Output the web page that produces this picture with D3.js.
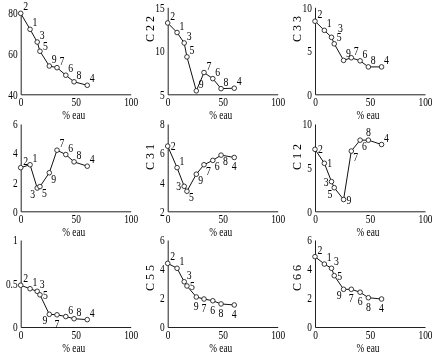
<!DOCTYPE html>
<html>
<head>
  <title>% eau panels</title>
  <style>
    body { margin: 0; background: #fff; }
    svg { display: block; will-change: transform; }
  </style>
</head>
<body>
<div id="chart"></div>
<script src="https://d3js.org/d3.v7.min.js"></script>
<script>
// samples 1..9, water content of each sample
var samples = [1, 2, 3, 4, 5, 6, 7, 8, 9];
var eau = [8.5, 0, 15, 60.5, 17.5, 41, 33, 48.5, 26];

// one array of values per panel (sample order 1..9)
var c11 = [71.7, 79.5, 65.5, 44.4, 61, 49.3, 53, 46.1, 53.8];
var c22 = [12.1, 13.2, 10.9, 5.7, 9.3, 6.8, 7.5, 5.65, 5.4];
var c33 = [7.35, 8.4, 6.55, 3.15, 5.8, 3.85, 4.2, 3.15, 3.9];
var c23 = [3.2, 3.0, 1.6, 3.1, 1.7, 3.9, 4.2, 3.4, 2.65];
var c31 = [5.0, 6.48, 3.72, 5.7, 3.38, 5.5, 5.2, 5.86, 4.55];
var c12 = [5.5, 7.1, 3.4, 7.65, 2.7, 8.15, 6.9, 8.15, 1.35];
var c44 = [0.44, 0.48, 0.41, 0.085, 0.37, 0.12, 0.14, 0.095, 0.146];
var c55 = [4.05, 4.39, 3.12, 1.52, 2.83, 1.81, 1.93, 1.59, 2.07];
var c66 = [4.34, 4.85, 4.05, 1.93, 3.54, 2.4, 2.6, 2.02, 2.6];

var panelValues = [c11, c22, c33, c23, c31, c12, c44, c55, c66];
var panelNames = ["C 1 1", "C 2 2", "C 3 3", "C 2 3", "C 3 1", "C 1 2", "C 4 4", "C 5 5", "C 6 6"];
var yTicks = [[40, 60, 80], [5, 10, 15], [0, 5, 10],
              [0, 2, 4, 6], [2, 4, 6, 8], [0, 5, 10],
              [0, 0.5, 1], [0, 2, 4, 6], [0, 2, 4, 6]];
var xTicks = [0, 50, 100];
var xLabel = "% eau";

// where each point label sits (sample order 1..9)
var labelPos = [
  ["ne","ne","ne","ne","ene","ne","ne","ne","ne"],
  ["ne","ne","ne","ne","ne","ne","ne","ne","ne"],
  ["ne","ne","nne","ne","ne","ne","ne","ne","ne"],
  ["ne","ne","sw","ne","se","ne","ne","ne","se"],
  ["ne","e","w","s","se","se","se","se","se"],
  ["e","e","w","ne","sw","se","se","n","e"],
  ["ne","ne","ne","ne","e","ne","s","ne","sw"],
  ["ne","ne","ne","s","e","s","s","s","s"],
  ["ne","ne","ne","s","e","s","s","s","sw"]
];
var offsets = {
  ne: [2.5, -3, "start"], nne: [6.5, -5, "start"], ene: [3, -1, "start"],
  e: [3, 4, "start"], se: [2, 10, "start"], s: [0, 13, "middle"],
  sw: [-2, 10, "end"], w: [-3, 4, "end"], n: [0, -4, "middle"]
};

// layout
var W = 440, H = 355;
var colX = [20.7, 167.7, 315];
var rowTop = [7.3, 124, 240];
var rowBottom = [94.3, 211.3, 327];
var plotW = 110;
var squeeze = 0.78;
var font = "'Liberation Serif', 'DejaVu Serif', serif";
var ylabX = [-1, 153.5, 301];
var ylabY = [29, 157, 278];

var svg = d3.select("#chart").append("svg")
  .attr("width", W).attr("height", H)
  .style("font-family", font);

panelValues.forEach(function (vals, p) {
  var col = p % 3, row = Math.floor(p / 3);
  var top = (p === 0) ? 12.3 : rowTop[row];
  var yt = yTicks[p];

  var x = d3.scaleLinear().domain([0, 100]).range([colX[col], colX[col] + plotW]);
  var y = d3.scaleLinear().domain([yt[0], yt[yt.length - 1]]).range([rowBottom[row], top]);

  var g = svg.append("g");

  // axes
  var ax = g.append("g")
    .attr("transform", "translate(0," + rowBottom[row] + ")")
    .call(d3.axisBottom(x).tickValues(xTicks).tickSize(0).tickSizeOuter(0).tickPadding(3));
  var ay = g.append("g")
    .attr("transform", "translate(" + colX[col] + ",0)")
    .call(d3.axisLeft(y).tickValues(yt).tickSize(0).tickSizeOuter(0).tickPadding(4)
      .tickFormat(d3.format("~g")));
  [ax, ay].forEach(function (a) {
    a.select(".domain").attr("stroke", "#222").attr("stroke-width", 1);
    a.selectAll("text")
      .attr("font-family", font)
      .attr("font-size", "12px")
      .attr("fill", "#000")
      .attr("transform", "scale(" + squeeze + ",1)");
  });

  // x label
  g.append("text")
    .attr("transform", "translate(" + (colX[col] + plotW / 2 - 2) + "," + (rowBottom[row] + 25) + ") scale(" + squeeze + ",1)")
    .attr("text-anchor", "middle")
    .attr("font-size", "12px")
    .attr("fill", "#000")
    .text(xLabel);

  // y label
  g.append("text")
    .attr("transform", "translate(" + ylabX[col] + "," + ylabY[row] + ") rotate(-90)")
    .attr("text-anchor", "middle")
    .attr("font-size", "12px")
    .attr("fill", "#000")
    .text(panelNames[p]);

  // points sorted by water content
  var pts = samples.map(function (s, i) {
    return { id: s, x: eau[i], v: vals[i], pos: labelPos[p][i] };
  }).sort(function (a, b) { return a.x - b.x; });

  g.append("path")
    .datum(pts)
    .attr("fill", "none")
    .attr("stroke", "#111")
    .attr("stroke-width", 1)
    .attr("d", d3.line().x(function (d) { return x(d.x); }).y(function (d) { return y(d.v); }));

  g.selectAll("circle").data(pts).enter().append("circle")
    .attr("cx", function (d) { return x(d.x); })
    .attr("cy", function (d) { return y(d.v); })
    .attr("r", 2.3)
    .attr("fill", "#fff")
    .attr("stroke", "#222")
    .attr("stroke-width", 0.9);

  g.selectAll("text.lab").data(pts).enter().append("text")
    .attr("class", "lab")
    .attr("transform", function (d) {
      var o = offsets[d.pos];
      return "translate(" + (x(d.x) + o[0]) + "," + (y(d.v) + o[1]) + ") scale(" + squeeze + ",1)";
    })
    .attr("text-anchor", function (d) { return offsets[d.pos][2]; })
    .attr("font-size", "12.5px")
    .attr("fill", "#000")
    .text(function (d) { return d.id; });
});
</script>
</body>
</html>
